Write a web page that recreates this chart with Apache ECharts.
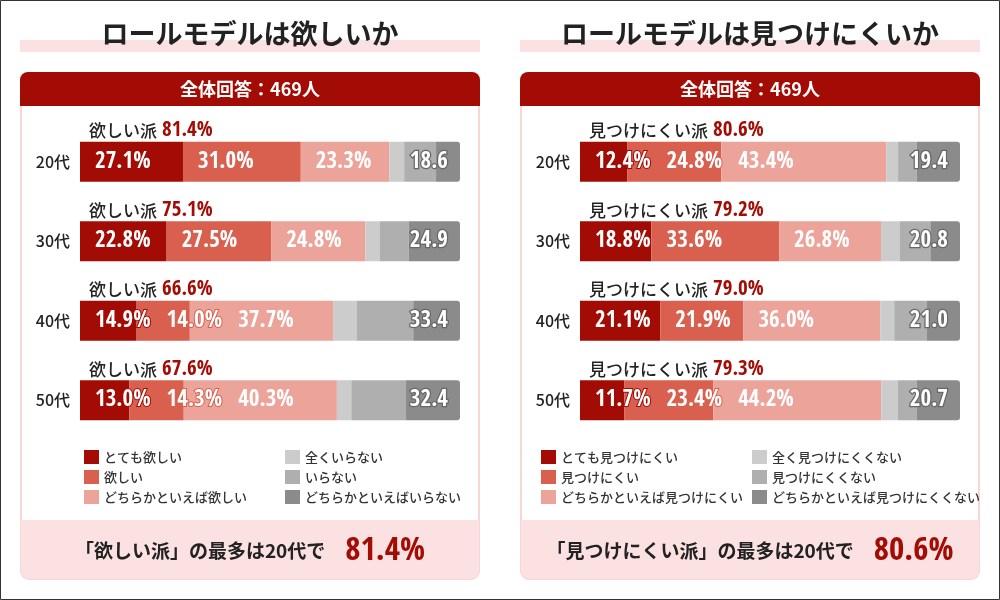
<!DOCTYPE html>
<html><head><meta charset="utf-8">
<script src="https://cdn.jsdelivr.net/npm/echarts@6/dist/echarts.min.js"></script>
<style>html,body{margin:0;padding:0;background:#fff}#c{width:1000px;height:600px}</style>
</head><body><div id="c"></div>
<script>
// ---------- data ----------
const ageGroups = ['20代', '30代', '40代', '50代'];
const respondents = 469;

// ロールモデルは欲しいか
const wantVeryMuch = [27.1, 22.8, 14.9, 13.0];
const wantSome = [31.0, 27.5, 14.0, 14.3];
const wantRather = [23.3, 24.8, 37.7, 40.3];
const wantNotAtAll = [3.9, 3.8, 6.3, 3.8];
const wantNot = [8.4, 7.6, 14.8, 14.4];
const wantRatherNot = [6.3, 13.5, 12.3, 14.2];
const leftNames = ['とても欲しい', '欲しい', 'どちらかといえば欲しい', '全くいらない', 'いらない', 'どちらかといえばいらない'];

// ロールモデルは見つけにくいか
const hardVery = [12.4, 18.8, 21.1, 11.7];
const hardSome = [24.8, 33.6, 21.9, 23.4];
const hardRather = [43.4, 26.8, 36.0, 44.2];
const hardNotAtAll = [3.1, 5.0, 3.7, 4.3];
const hardNot = [4.9, 8.0, 8.6, 5.0];
const hardRatherNot = [11.4, 7.8, 8.7, 11.4];
const rightNames = ['とても見つけにくい', '見つけにくい', 'どちらかといえば見つけにくい', '全く見つけにくくない', '見つけにくくない', 'どちらかといえば見つけにくくない'];

// ---------- styles ----------
const colors = ['#a20c04', '#d9604f', '#eca39a', '#cccccc', '#afafaf', '#8b8b8b'];
const JP_FONT = "'Noto Sans CJK JP','Noto Sans',sans-serif";
const DARK = '#a20c04';

// pick the installed condensed face that best matches the reference's narrow numerals
function pickNumFont() {
  const cands = [
    ['', "'Liberation Sans Narrow'"], ['', "'DejaVu Sans Condensed'"], ['', "'Roboto Condensed'"],
    ['', "'Noto Sans Condensed'"], ['', "'Noto Sans SemiCondensed'"], ['', "'Open Sans Condensed'"],
    ['condensed', "'Noto Sans'"], ['semi-condensed', "'Noto Sans'"], ['condensed', 'Roboto'],
    ['condensed', "'DejaVu Sans'"], ['condensed', "'Open Sans'"], ['condensed', "'Liberation Sans'"],
    ['', "'Liberation Sans'"], ['', 'Roboto']
  ];
  const ctx = document.createElement('canvas').getContext('2d');
  let best = cands[cands.length - 1], bestErr = 1e9;
  cands.forEach(c => {
    ctx.font = '10px serif';
    ctx.font = (c[0] ? c[0] + ' ' : '') + 'bold 23px ' + c[1];
    const w = ctx.measureText('27.1%').width;
    const err = Math.abs(w - 53);
    if (w > 40 && err < bestErr - 0.5) { bestErr = err; best = c; }
  });
  return { style: best[0] || 'normal', family: best[1] + ',sans-serif' };
}
const NUM = pickNumFont();

const panels = [
  { x0: 20, title: 'ロールモデルは欲しいか', faction: '欲しい派', names: leftNames,
    data: [wantVeryMuch, wantSome, wantRather, wantNotAtAll, wantNot, wantRatherNot] },
  { x0: 520, title: 'ロールモデルは見つけにくいか', faction: '見つけにくい派', names: rightNames,
    data: [hardVery, hardSome, hardRather, hardNotAtAll, hardNot, hardRatherNot] }
];

const sum3 = (a, b, c) => a.map((v, i) => Math.round((v + b[i] + c[i]) * 10) / 10);

const meta = [];
const lastRight = {};
function shiftLabel(params) {
  const m = meta[params.seriesIndex];
  if (!m) return {};
  const key = m.panel + '-' + params.dataIndex;
  const r = params.labelRect;
  let x = r.x;
  if (m.k > 0 && lastRight[key] != null) x = Math.max(x, lastRight[key] + 14);
  lastRight[key] = x + r.width;
  return { dx: x - r.x };
}

const series = [];
const legends = [];
const graphics = [];
const grids = [], xAxes = [], yAxes = [];

graphics.push({ type: 'rect', shape: { x: 0.5, y: 0.5, width: 999, height: 599 },
  style: { fill: '#fff', stroke: '#333', lineWidth: 1 }, z: 0 });

panels.forEach((p, pi) => {
  const fav = sum3(p.data[0], p.data[1], p.data[2]);
  const neg = sum3(p.data[3], p.data[4], p.data[5]);
  const x0 = p.x0;

  grids.push({ left: x0 + 60, width: 380, top: 122, height: 318 });
  xAxes.push({ gridIndex: pi, type: 'value', min: 0, max: 100, show: false });
  yAxes.push({ gridIndex: pi, type: 'category', data: ageGroups, inverse: true, z: 10,
    axisLine: { show: false }, axisTick: { show: false }, splitLine: { show: false },
    axisLabel: { fontSize: 16, color: '#222', margin: 10, fontFamily: JP_FONT, fontWeight: 500 } });

  const numLabel = { color: '#fff', fontFamily: NUM.family, fontStyle: NUM.style, fontWeight: 'bold', fontSize: 23 };

  p.data.forEach((arr, k) => {
    meta.push({ panel: pi, k });
    const s = { type: 'bar', name: p.names[k], xAxisIndex: pi, yAxisIndex: pi, stack: 's' + pi,
      barWidth: 40, barGap: '-100%', data: arr, itemStyle: { color: colors[k] },
      emphasis: { disabled: true }, label: { show: false } };
    if (k < 3) {
      s.label = Object.assign({ show: true, position: 'insideLeft', distance: 15,
        formatter: v => v.value.toFixed(1) + '%', textBorderColor: colors[k], textBorderWidth: 2 }, numLabel);
      s.labelLayout = shiftLabel;
    } else if (k === 5) {
      s.itemStyle.borderRadius = [0, 3, 3, 0];
      s.label = Object.assign({ show: true, position: 'insideRight', distance: 12,
        formatter: v => neg[v.dataIndex].toFixed(1), textBorderColor: '#676767', textBorderWidth: 2.5 }, numLabel);
    }
    series.push(s);
  });
  meta.push({ panel: pi, k: -1 });
  series.push({ type: 'bar', xAxisIndex: pi, yAxisIndex: pi, barWidth: 40, barGap: '-100%',
    data: fav, itemStyle: { color: 'rgba(0,0,0,0)' }, silent: true, z: 1,
    label: { show: true, position: [9, 0], align: 'left', verticalAlign: 'bottom',
      formatter: v => '{a|' + p.faction + '}{b|' + v.value.toFixed(1) + '%}',
      rich: {
        a: { fontFamily: JP_FONT, fontSize: 17, fontWeight: 500, color: '#222', lineHeight: 22, padding: [0, 5, 0, 0] },
        b: { fontFamily: NUM.family, fontStyle: NUM.style, fontSize: 21, fontWeight: 'bold', color: DARK, lineHeight: 22 }
      } } });

  const legendBase = { orient: 'vertical', top: 445, itemWidth: 15, itemHeight: 14, itemGap: 6,
    icon: 'rect', selectedMode: false,
    textStyle: { fontSize: 13, color: '#333', fontFamily: JP_FONT, fontWeight: 500 } };
  const lx = pi === 0 ? [79, 280] : [536, 747];
  legends.push(Object.assign({}, legendBase, { left: lx[0], data: p.names.slice(0, 3) }));
  legends.push(Object.assign({}, legendBase, { left: lx[1], data: p.names.slice(3, 6) }));

  let bi = 0;
  fav.forEach((v, i) => { if (v > fav[bi]) bi = i; });

  graphics.push(
    { type: 'rect', shape: { x: x0, y: 40, width: 460, height: 12 }, style: { fill: '#fbe1e1' }, z: 1 },
    { type: 'text', x: x0 + 230, y: 34, z: 2,
      style: { text: p.title, fill: '#222', font: 'bold 27px ' + JP_FONT, align: 'center', verticalAlign: 'middle' } },
    { type: 'rect', shape: { x: x0 + 1, y: 73, width: 458, height: 506, r: 8 },
      style: { fill: '#fff', stroke: '#f7d6d6', lineWidth: 2 }, z: 1 },
    { type: 'rect', shape: { x: x0, y: 72, width: 460, height: 34, r: [8, 8, 0, 0] },
      style: { fill: DARK }, z: 2 },
    { type: 'text', x: x0 + 230, y: 89, z: 3,
      style: { text: '全体回答：' + respondents + '人', fill: '#fff', font: 'bold 18px ' + JP_FONT,
        align: 'center', verticalAlign: 'middle' } },
    { type: 'rect', shape: { x: x0 + 1, y: 520, width: 458, height: 59, r: [0, 0, 8, 8] },
      style: { fill: '#fbe1e1' }, z: 2 },
    { type: 'text', x: x0 + 230, y: 551, z: 3,
      style: { text: '{a|「' + p.faction + '」の最多は' + ageGroups[bi] + 'で}{b|' + fav[bi].toFixed(1) + '%}',
        align: 'center', verticalAlign: 'middle',
        rich: {
          a: { fontFamily: JP_FONT, fontSize: 19, fontWeight: 'bold', fill: '#222', color: '#222', lineHeight: 40, padding: [0, 20, 0, 0] },
          b: { fontFamily: NUM.family, fontStyle: NUM.style, fontSize: 33, fontWeight: 'bold', fill: DARK, color: DARK, lineHeight: 40 }
        } } }
  );
});

const chart = echarts.init(document.getElementById('c'), null, { renderer: 'canvas' });
chart.setOption({
  animation: false,
  backgroundColor: '#fff',
  grid: grids, xAxis: xAxes, yAxis: yAxes,
  legend: legends,
  graphic: { elements: graphics },
  series: series
});
</script>
</body></html>
